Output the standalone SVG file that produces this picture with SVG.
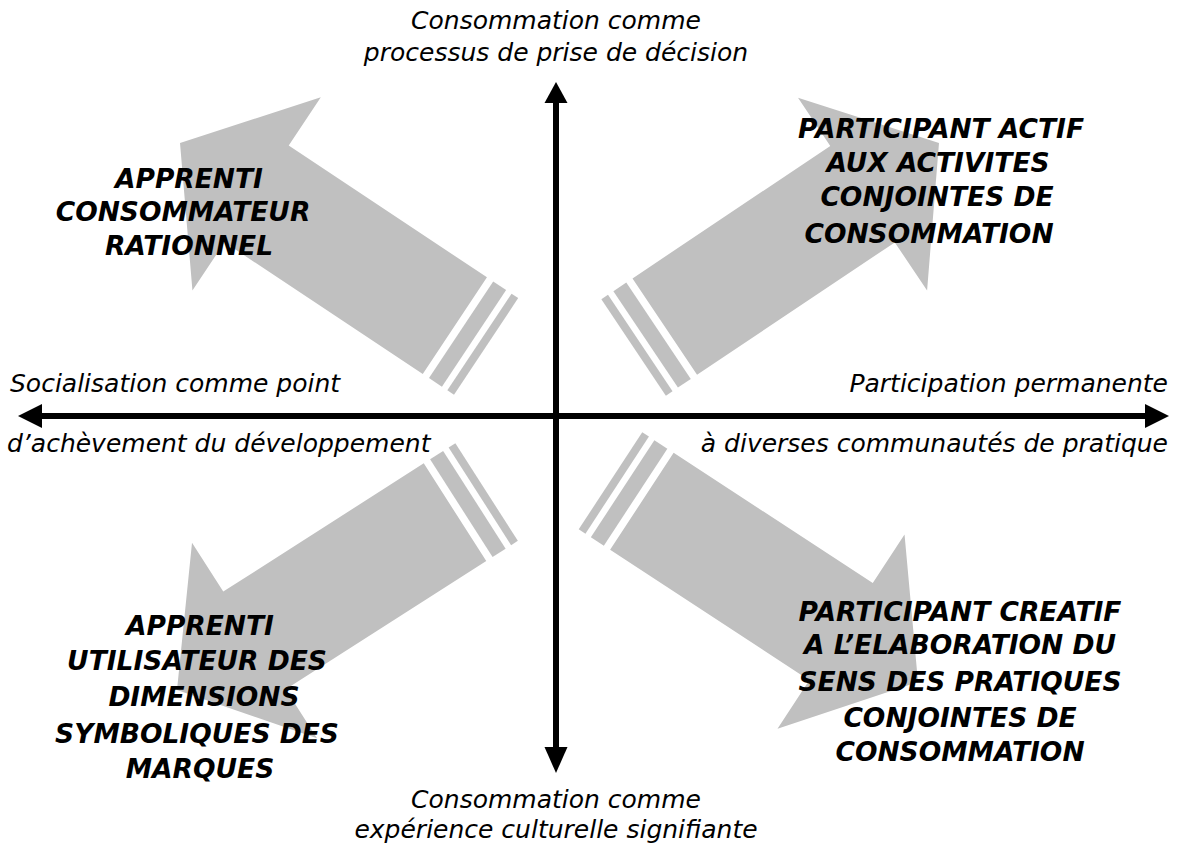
<svg xmlns="http://www.w3.org/2000/svg" width="1178" height="843" viewBox="0 0 1178 843">
<style>
.ax{font-family:"DejaVu Sans","Liberation Sans",sans-serif;font-style:italic;font-size:25px;fill:#000}
.lb{font-family:"DejaVu Sans","Liberation Sans",sans-serif;font-style:italic;font-weight:bold;font-size:26.5px;fill:#000;text-anchor:middle}
.big{fill:#c0c0c0}
.axis{stroke:#000;stroke-width:6;fill:none}
</style>
<defs>
<g id="bigArrow">
<path class="big" d="M0,0 L-92,-116 L-92,-58 L-330,-58 L-330,58 L-92,58 L-92,116 Z"/>
<rect class="big" x="-353" y="-58" width="15.5" height="116"/>
<rect class="big" x="-367.5" y="-58" width="8" height="116"/>
</g>
</defs>
<rect width="1178" height="843" fill="#fff"/>
<g id="arrow-tl"><use href="#bigArrow" transform="translate(180,143) rotate(213.6)"/></g>
<g id="arrow-tr"><use href="#bigArrow" transform="translate(939,143) rotate(-33.8)"/></g>
<g id="arrow-bl"><use href="#bigArrow" transform="translate(177,690) rotate(147.4)"/></g>
<g id="arrow-br"><use href="#bigArrow" transform="translate(918,682) rotate(33.2)"/></g>
<g id="connectors">
<line class="axis" x1="40" y1="416" x2="1146" y2="416"/>
<polygon points="18,416 42,404 42,428" fill="#000"/>
<polygon points="1169,416 1145,404 1145,428" fill="#000"/>
<line class="axis" x1="556" y1="101" x2="556" y2="748"/>
<polygon points="556,82 544.5,103 567.5,103" fill="#000"/>
<polygon points="556,773 544.5,747 567.5,747" fill="#000"/>
</g>
<g id="label-top">
<text class="ax" x="556" y="29" text-anchor="middle">Consommation comme</text>
<text class="ax" x="556" y="61" text-anchor="middle">processus de prise de décision</text>
</g>
<g id="label-bottom">
<text class="ax" x="556" y="808" text-anchor="middle">Consommation comme</text>
<text class="ax" x="556" y="838" text-anchor="middle">expérience culturelle signifiante</text>
</g>
<g id="label-left">
<text class="ax" x="10" y="392">Socialisation comme point</text>
<text class="ax" x="7" y="452">d’achèvement du développement</text>
</g>
<g id="label-right">
<text class="ax" x="1168" y="392" text-anchor="end">Participation permanente</text>
<text class="ax" x="1168" y="452" text-anchor="end">à diverses communautés de pratique</text>
</g>
<g id="node-tl">
<text class="lb" x="189" y="188">APPRENTI</text>
<text class="lb" x="183" y="221">CONSOMMATEUR</text>
<text class="lb" x="189" y="255">RATIONNEL</text>
</g>
<g id="node-tr">
<text class="lb" x="941" y="138">PARTICIPANT ACTIF</text>
<text class="lb" x="938" y="172">AUX ACTIVITES</text>
<text class="lb" x="937" y="206">CONJOINTES DE</text>
<text class="lb" x="929" y="243">CONSOMMATION</text>
</g>
<g id="node-bl">
<text class="lb" x="200" y="635">APPRENTI</text>
<text class="lb" x="197" y="670">UTILISATEUR DES</text>
<text class="lb" x="204" y="706">DIMENSIONS</text>
<text class="lb" x="197" y="743">SYMBOLIQUES DES</text>
<text class="lb" x="200" y="778">MARQUES</text>
</g>
<g id="node-br">
<text class="lb" x="960" y="621">PARTICIPANT CREATIF</text>
<text class="lb" x="960" y="654">A L’ELABORATION DU</text>
<text class="lb" x="960" y="691">SENS DES PRATIQUES</text>
<text class="lb" x="960" y="727">CONJOINTES DE</text>
<text class="lb" x="960" y="761">CONSOMMATION</text>
</g>
</svg>
